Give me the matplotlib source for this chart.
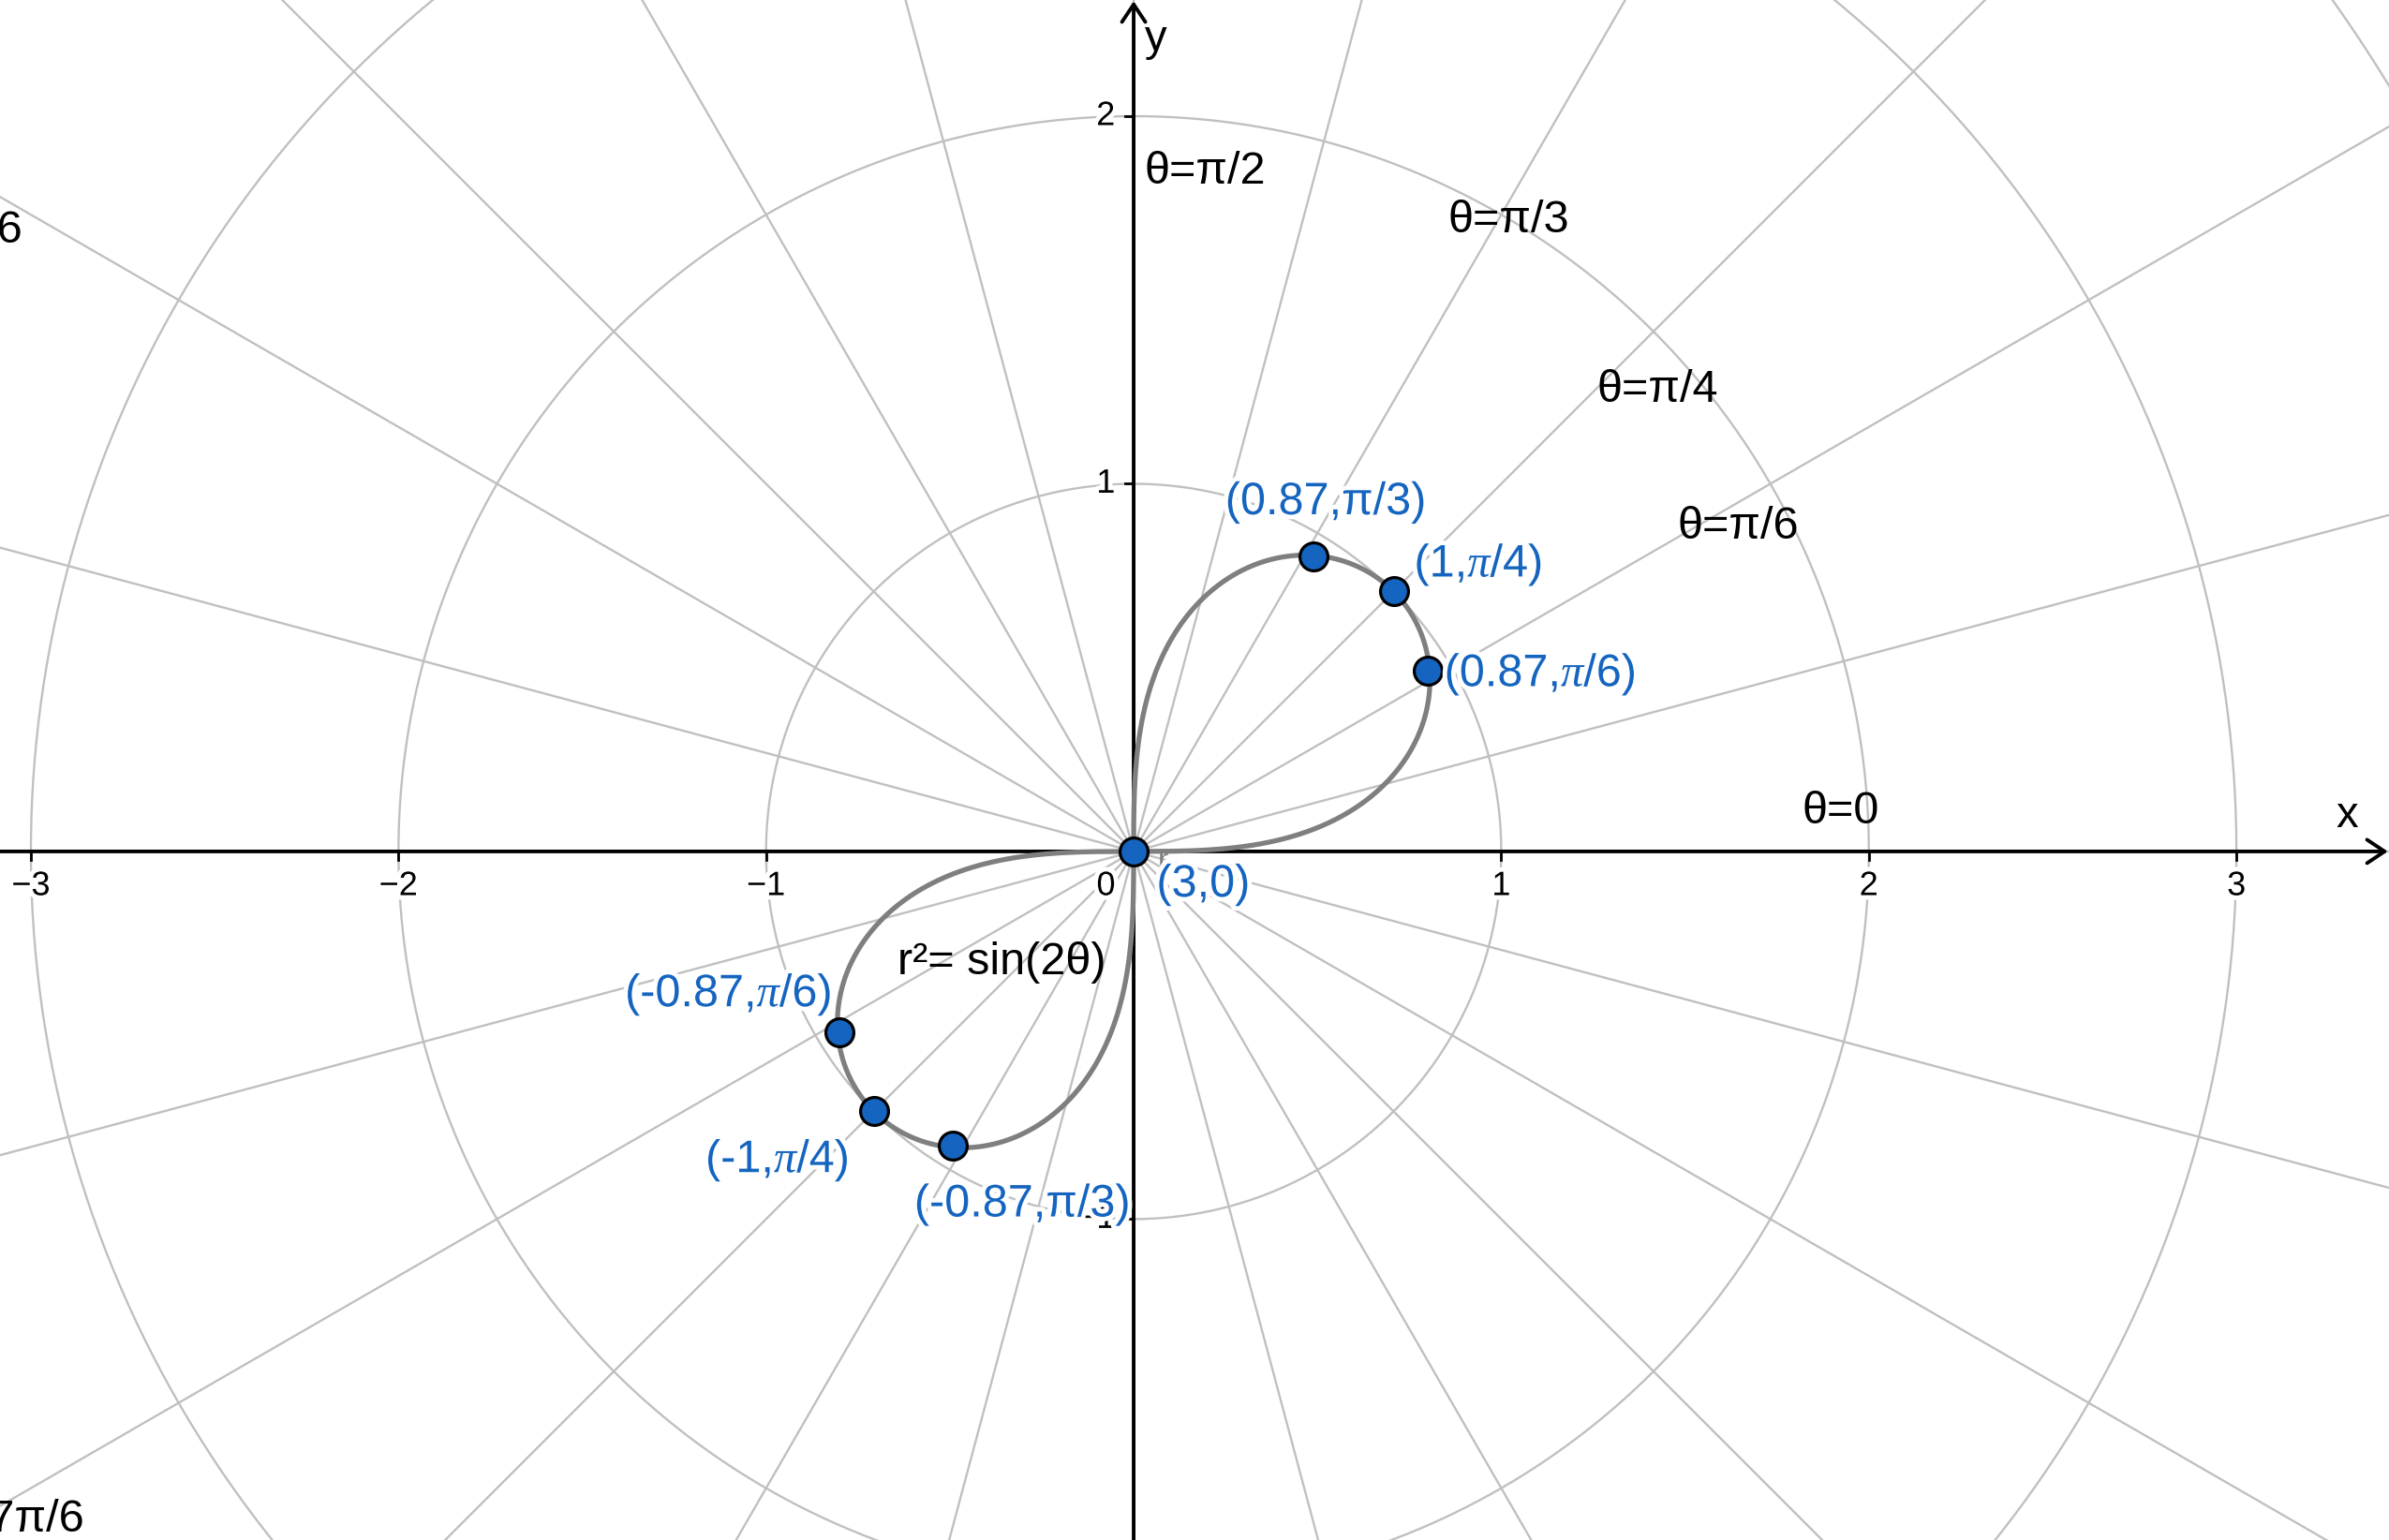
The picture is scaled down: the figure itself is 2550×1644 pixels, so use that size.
import numpy as np
import matplotlib.pyplot as plt
import matplotlib.patheffects as pe

plt.rcParams['font.family'] = ['Liberation Sans', 'DejaVu Sans']
plt.rcParams['mathtext.fontset'] = 'custom'
plt.rcParams['mathtext.rm'] = 'Liberation Sans'
plt.rcParams['mathtext.it'] = 'Liberation Serif:italic'

# view window (data units)
xlim = (-3.084, 3.415)
ylim = (-1.873, 2.316)

# polar grid
grid_radii = [1, 2, 3, 4, 5]
grid_angles_deg = list(range(0, 360, 15))

# axis ticks
x_ticks = [-3, -2, -1, 1, 2, 3]
y_ticks = [-1, 1, 2]

# marked points (polar r, theta in degrees, as drawn) and their labels
pt_r = [0.94, 1.0, 0.94, -0.94, -1.0, -0.94, 0.0]
pt_theta_deg = [58.6, 45.0, 31.6, 31.6, 45.0, 58.4, 0.0]
pt_labels = ['(0.87,π/3)', r'(1,$\pi$/4)', r'(0.87,$\pi$/6)', r'(-0.87,$\pi$/6)',
             r'(-1,$\pi$/4)', '(-0.87,π/3)', '(3,0)']
pt_label_xy = [(0.249, 0.949), (0.763, 0.779), (0.845, 0.481), (-1.384, -0.390),
               (-1.165, -0.841), (-0.597, -0.961), (0.062, -0.091)]

# angle annotations
ang_labels = ['θ=π/2', 'θ=π/3', 'θ=π/4', 'θ=π/6', 'θ=0']
ang_label_xy = [(0.029, 1.848), (0.854, 1.716), (1.260, 1.256), (1.479, 0.883), (1.819, 0.108)]

grid_col = '#c0c0c0'
blue = '#1565c0'
halo = [pe.withStroke(linewidth=7, foreground='white')]

fig = plt.figure(figsize=(25.5, 16.44), dpi=100)
ax = fig.add_axes([0, 0, 1, 1])
ax.set_xlim(*xlim)
ax.set_ylim(*ylim)
ax.axis('off')

# grid
t = np.linspace(0, 2*np.pi, 720)
for r in grid_radii:
    ax.plot(r*np.cos(t), r*np.sin(t), color=grid_col, lw=1.7, zorder=1)
for a in grid_angles_deg:
    a = np.deg2rad(a)
    ax.plot([0, 6*np.cos(a)], [0, 6*np.sin(a)], color=grid_col, lw=1.7, zorder=1)

# axes with arrows
arrow = dict(arrowstyle='->,head_length=0.45,head_width=0.3', lw=2.8,
             color='black', mutation_scale=30, shrinkA=0, shrinkB=0)
ax.annotate('', xy=(xlim[1]-0.003, 0), xytext=(xlim[0], 0), arrowprops=arrow, zorder=3)
ax.annotate('', xy=(0, ylim[1]-0.003), xytext=(0, ylim[0]), arrowprops=arrow, zorder=3)
ax.text(3.27, 0.04, 'x', fontsize=34, ha='left', va='bottom', zorder=4)
ax.text(0.03, 2.21, 'y', fontsize=34, ha='left', va='center', zorder=4)

for v in x_ticks:
    ax.plot([v, v], [0, -0.022], color='black', lw=2, zorder=3)
    ax.text(v, -0.05, str(v).replace('-', '\u2212'), fontsize=26, ha='center', va='top',
            path_effects=halo, zorder=4)
for v in y_ticks:
    ax.plot([0, -0.022], [v, v], color='black', lw=2, zorder=3)
    ax.text(-0.05, v, str(v).replace('-', '\u2212'), fontsize=26, ha='right', va='center',
            path_effects=halo, zorder=4)
ax.text(-0.05, -0.05, '0', fontsize=26, ha='right', va='top', path_effects=halo, zorder=4)

# lemniscate r^2 = sin(2θ)
th = np.linspace(0, np.pi/2, 600)
rr = np.sqrt(np.clip(np.sin(2*th), 0, None))
ax.plot(rr*np.cos(th), rr*np.sin(th), color='#7f7f7f', lw=3.8, zorder=5)
ax.plot(-rr*np.cos(th), -rr*np.sin(th), color='#7f7f7f', lw=3.8, zorder=5)
ax.text(0.066, -0.03, 'r', fontsize=24, color='#7f7f7f', ha='left', va='center', zorder=5)
ax.text(-0.642, -0.303, 'r²= sin(2θ)', fontsize=35, ha='left', va='center', zorder=6)

# points
pt_theta = np.deg2rad(pt_theta_deg)
px = np.array(pt_r)*np.cos(pt_theta)
py = np.array(pt_r)*np.sin(pt_theta)
ax.plot(px, py, 'o', ms=21.5, mfc=blue, mec='black', mew=2.3, ls='none', zorder=7)
for lab, (lx, ly) in zip(pt_labels, pt_label_xy):
    ax.text(lx, ly, lab, fontsize=35, color=blue, ha='left', va='center',
            path_effects=halo, zorder=8)

# angle labels
for lab, (lx, ly) in zip(ang_labels, ang_label_xy):
    ax.text(lx, ly, lab, fontsize=35, ha='left', va='center', zorder=6)
ax.text(-3.021, 1.687, 'θ=5π/6', fontsize=35, ha='right', va='center', zorder=6)
ax.text(-2.855, -1.819, 'θ=7π/6', fontsize=35, ha='right', va='center', zorder=6)

fig.savefig('out.png', dpi=100)
